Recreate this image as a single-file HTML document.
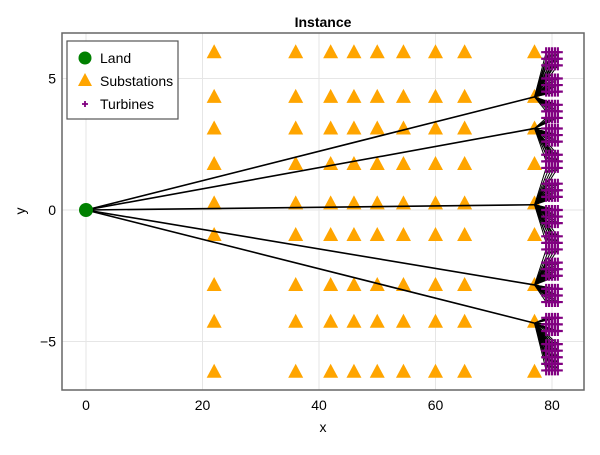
<!DOCTYPE html>
<html><head><meta charset="utf-8"><style>
body{margin:0;background:#fff}
svg{font-family:"Liberation Sans",sans-serif}
</style></head><body>
<svg id="c" width="600" height="450">
<rect x="0" y="0" width="600" height="450" fill="#fff"/>
<g id="grid"></g>
<g id="marks"></g>
<rect x="62" y="33" width="522" height="357" fill="none" stroke="#666" stroke-width="1.5"/>
<g id="axes"></g>
<text x="323" y="27" text-anchor="middle" font-weight="bold" font-size="14">Instance</text>
<text x="323" y="432" text-anchor="middle" font-size="14">x</text>
<text x="25" y="211" text-anchor="middle" font-size="14" transform="rotate(-90 25 211)">y</text>
<g>
<rect x="67" y="41" width="111" height="78" fill="#fff" stroke="#555" stroke-width="1.2"/>
<circle cx="85" cy="58" r="6.5" fill="green"/>
<text x="100" y="63" font-size="14">Land</text>
<polygon points="85,73 92,86 78,86" fill="orange"/>
<text x="100" y="86" font-size="14">Substations</text>
<path d="M82,104H88M85,101V107" stroke="purple" stroke-width="1.8"/>
<text x="100" y="109" font-size="14">Turbines</text>
</g>
</svg>
<script>
const xTicks=[0,20,40,60,80];
const yTicks=[-5,0,5];
const land=[0,0];
const subX=[22,36,42,46,50,54.5,60,65,77];
const subY=[6,4.3,3.1,1.75,0.25,-0.95,-2.85,-4.25,-6.15];
const connSubY=[4.3,3.1,0.2,-2.85,-4.3];
const connSubX=77;
const turbX=[79,79.5,80,80.5,81];
const turbY=[6,5.75,5.5,5,4.75,4.5,4,3.75,3.5,3.1,2.85,2.6,2.1,1.85,1.6,1,0.75,0.5,0,-0.25,-0.5,-1,-1.25,-1.5,-2,-2.25,-2.5,-3,-3.25,-3.5,-4.1,-4.35,-4.6,-5.1,-5.35,-5.6,-5.85,-6.1];
const X=v=>86+v*5.825, Y=v=>210-v*26.3;
const ns="http://www.w3.org/2000/svg";
function mk(p,t,a){const e=document.createElementNS(ns,t);for(const k in a)e.setAttribute(k,a[k]);p.appendChild(e);return e;}
const grid=document.getElementById('grid'),axes=document.getElementById('axes'),marks=document.getElementById('marks');
xTicks.forEach(t=>{
 const l=mk(grid,'line',{x1:X(t),x2:X(t),y1:33,y2:390,stroke:'#e6e6e6'});
 
 
 const tx=mk(axes,'text',{x:X(t),y:410,'text-anchor':'middle','font-size':14});
 tx.textContent=t;
 
 
});
yTicks.forEach(t=>{
 const l=mk(grid,'line',{x1:62,x2:584,y1:Y(t),y2:Y(t),stroke:'#e6e6e6'});
 
 
 const tx=mk(axes,'text',{x:56,y:Y(t)+5,'text-anchor':'end','font-size':14});
 tx.textContent=t<0?'\u2212'+(-t):t;
 
 
});
subX.forEach(sx=>subY.forEach(sy=>{
 const cx=X(sx),cy=Y(sy);
 const p=mk(marks,'polygon',{points:`${cx},${cy-8} ${cx+7.5},${cy+6} ${cx-7.5},${cy+6}`,fill:'orange'});
 
 
}));
turbY.forEach(ty=>{
 let best=connSubY[0];connSubY.forEach(s=>{if(Math.abs(s-ty)<Math.abs(best-ty))best=s;});
 turbX.forEach(tx=>{
  const l=mk(marks,'line',{x1:X(connSubX),y1:Y(best),x2:X(tx),y2:Y(ty),stroke:'#000','stroke-width':1});
  
  
 });
});
connSubY.forEach(sy=>{
 const l=mk(marks,'line',{x1:X(land[0]),y1:Y(land[1]),x2:X(connSubX),y2:Y(sy),stroke:'#000','stroke-width':1.6});
 
 
});
turbY.forEach(ty=>turbX.forEach(tx=>{
 const cx=X(tx),cy=Y(ty);
 const p=mk(marks,'path',{d:`M${cx-5},${cy}H${cx+5}M${cx},${cy-5}V${cy+5}`,stroke:'purple','stroke-width':2.2});
 
 
}));
const c=mk(marks,'circle',{cx:X(land[0]),cy:Y(land[1]),r:7,fill:'green'});


</script>
</body></html>
